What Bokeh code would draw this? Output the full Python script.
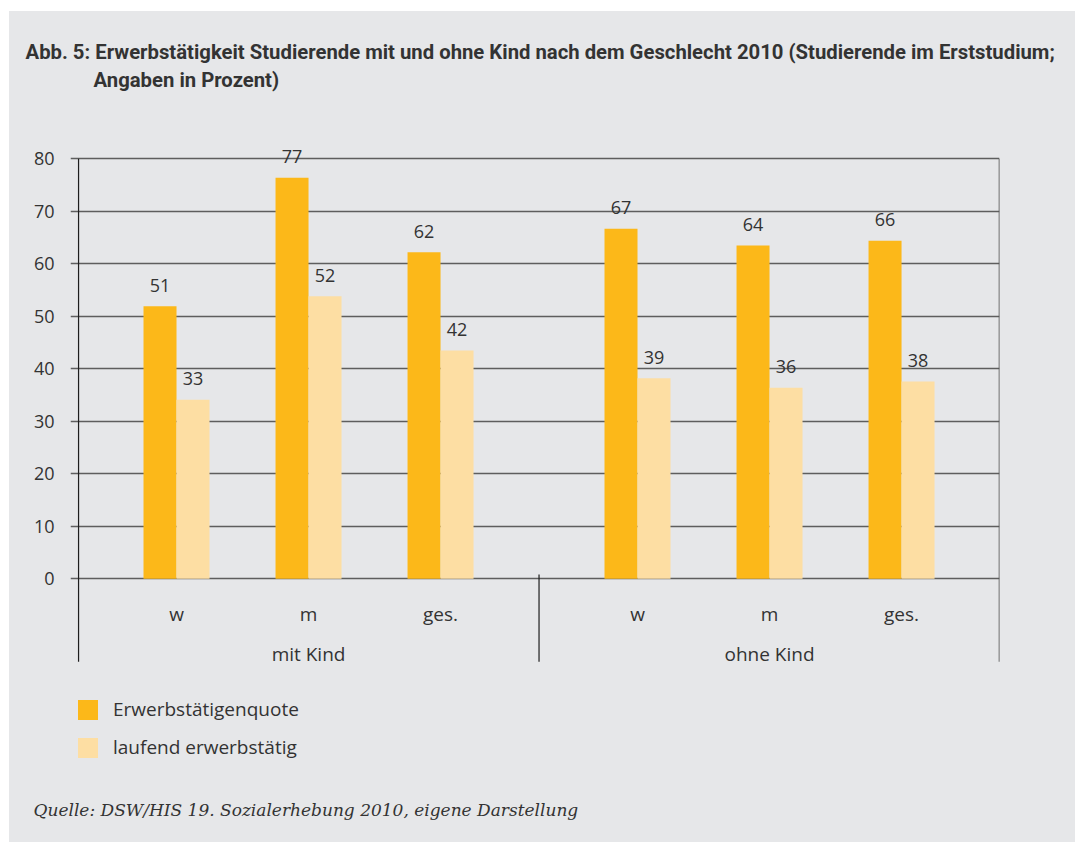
import numpy as np
from bokeh.plotting import figure
from bokeh.models import Range1d, FixedTicker, ColumnDataSource, Legend, LegendItem, Title
from bokeh.transform import dodge
from bokeh.core.properties import value
from bokeh.embed import file_html
from bokeh.resources import INLINE

# ---------------- data ----------------
groups = ["mit Kind", "ohne Kind"]
subcats = ["w", "m", "ges."]
series_names = ["Erwerbstätigenquote", "laufend erwerbstätig"]
# bar heights as drawn in the picture
quote_bar = [51.9, 76.4, 62.2, 66.7, 63.5, 64.4]
laufend_bar = [34.1, 53.8, 43.5, 38.2, 36.4, 37.6]
# printed value labels
quote_lbl = ["51", "77", "62", "67", "64", "66"]
laufend_lbl = ["33", "52", "42", "39", "36", "38"]
y_ticks = [0, 10, 20, 30, 40, 50, 60, 70, 80]
title_lines = [
    "Abb. 5: Erwerbstätigkeit Studierende mit und ohne Kind nach dem Geschlecht 2010 (Studierende im Erststudium;",
    "Angaben in Prozent)",
]
source_note = "Quelle: DSW/HIS 19. Sozialerhebung 2010, eigene Darstellung"

# ---------------- style ----------------
BG = "#E6E7E9"
C_QUOTE = "#FCB819"
C_LAUF = "#FDDEA3"
TXT = "#333333"
GRID = "#5E5E5E"
FONT = "Open Sans"
GROUP_GAP = 0.492
PAD = 0.242
BAR_W = 0.25

n_sub = len(subcats)
idx = np.arange(len(groups) * n_sub)
pos = idx + (idx // n_sub) * GROUP_GAP
sub_labels = [s for g in groups for s in subcats]
group_pos = [float(np.mean(pos[k * n_sub:(k + 1) * n_sub])) for k in range(len(groups))]

src = ColumnDataSource(dict(
    x=pos, quote=quote_bar, laufend=laufend_bar,
    quote_lbl=quote_lbl, laufend_lbl=laufend_lbl,
))

p = figure(
    width=1066, height=831, margin=(11, 0, 0, 9),
    styles={"background-color": BG},
    x_range=Range1d(pos[0] - 0.803, pos[-1] + 0.5 + PAD),
    y_range=Range1d(-40.32, 83.49),
    x_axis_location=None,
    output_backend="svg", toolbar_location=None,
    min_border_left=61, min_border_right=76, min_border_top=129, min_border_bottom=52,
)
p.background_fill_color = BG
p.border_fill_color = BG
p.outline_line_color = None

p.xgrid.grid_line_color = None
p.ygrid.ticker = FixedTicker(ticks=y_ticks)
p.ygrid.grid_line_color = GRID
p.ygrid.grid_line_width = 1.4

p.yaxis.ticker = FixedTicker(ticks=y_ticks)
p.yaxis.axis_line_color = None
p.yaxis.major_tick_line_color = None
p.yaxis.major_tick_out = 0
p.yaxis.major_tick_in = 0
p.yaxis.minor_tick_line_color = None
p.yaxis.major_label_standoff = 16
p.yaxis.major_label_text_font = FONT
p.yaxis.major_label_text_font_size = "18px"
p.yaxis.major_label_text_color = TXT

# bars
r1 = p.vbar(x=dodge("x", -BAR_W / 2, range=p.x_range), top="quote", width=BAR_W,
            source=src, fill_color=C_QUOTE, line_color=None)
r2 = p.vbar(x=dodge("x", BAR_W / 2, range=p.x_range), top="laufend", width=BAR_W,
            source=src, fill_color=C_LAUF, line_color=None)

# value labels
for col, lbl, off in (("quote", "quote_lbl", -BAR_W / 2), ("laufend", "laufend_lbl", BAR_W / 2)):
    p.text(x=dodge("x", off, range=p.x_range), y=col, text=lbl, source=src,
           text_align="center", text_baseline="middle", y_offset=-21,
           text_font=value(FONT), text_font_size="18px", text_color=TXT)

# category axis (drawn in the frame)
left_b = pos[0] - 0.5 - PAD
right_b = pos[-1] + 0.5 + PAD
mid_b = (pos[n_sub - 1] + pos[n_sub]) / 2
p.segment(x0=[left_b], y0=[-15.8], x1=[left_b], y1=[80], line_color="#1E1E1E", line_width=1.2)
p.segment(x0=[mid_b], y0=[0.8], x1=[mid_b], y1=[-15.8], line_color="#1E1E1E", line_width=1.2)
p.segment(x0=[right_b], y0=[-15.8], x1=[right_b], y1=[80], line_color="#555555", line_width=1.6)

p.text(x=pos, y=[-6.7] * len(pos), text=sub_labels, text_align="center",
       text_baseline="middle", text_font=value(FONT), text_font_size="19px", text_color=TXT)
p.text(x=group_pos, y=[-14.3] * len(groups), text=groups, text_align="center",
       text_baseline="middle", text_font=value(FONT), text_font_size="19px", text_color=TXT)

# legend
legend = Legend(items=[LegendItem(label=series_names[0], renderers=[r1]),
                       LegendItem(label=series_names[1], renderers=[r2])],
                location=(5, 30), orientation="vertical",
                glyph_width=25, glyph_height=25, label_standoff=13, spacing=12,
                padding=0, margin=0, border_line_color=None, background_fill_alpha=0,
                label_text_font=FONT, label_text_font_size="19px", label_text_color=TXT)
p.add_layout(legend)

# title (two lines, with a blank spacer panel between title and frame) and source
title_style = dict(align="left", text_font="Roboto", text_font_style="bold",
                   text_font_size="20.3px", text_color=TXT)
p.add_layout(Title(text="\u00a0", standoff=22, **title_style), "above")
p.add_layout(Title(text=title_lines[1], offset=23, standoff=2, **title_style), "above")
p.add_layout(Title(text=title_lines[0], offset=-45, standoff=2, **title_style), "above")
p.add_layout(Title(text=source_note, align="left", offset=-37, standoff=14,
                   text_font="DejaVu Serif", text_font_style="italic", text_font_size="17px",
                   text_color=TXT), "below")

open("out.html", "w").write(file_html(p, INLINE))
